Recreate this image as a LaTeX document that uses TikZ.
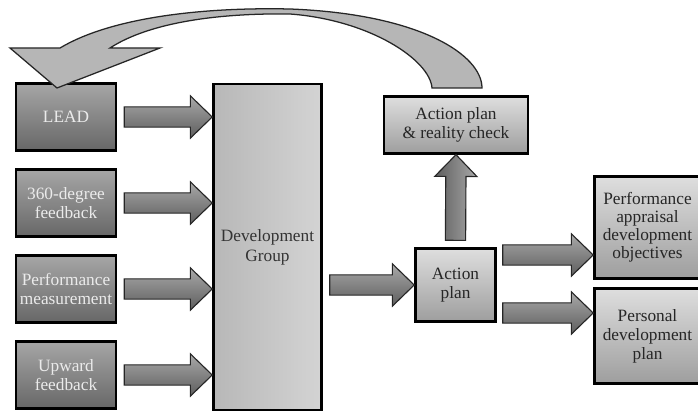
\documentclass[tikz,border=0pt]{standalone}
\usepackage{fontspec}
\setmainfont{Liberation Serif}
\usetikzlibrary{calc}
\definecolor{darktop}{HTML}{A6A6A6}
\definecolor{darkbot}{HTML}{676767}
\definecolor{lighttop}{HTML}{DEDEDE}
\definecolor{lightbot}{HTML}{9E9E9E}
\definecolor{arrtop}{HTML}{A8A8A8}
\definecolor{arrbot}{HTML}{5E5E5E}
\definecolor{loopfill}{HTML}{B6B6B6}

\begin{document}
\begin{tikzpicture}[x=0.025cm, y=-0.025cm, font=\fontsize{12.3}{14}\selectfont,
		box/.style={draw=black, line width=1.8pt, align=center, inner sep=1pt},
		darkbox/.style={box, top color=darktop, bottom color=darkbot, text=white!92!black,
			minimum width=2.5cm, minimum height=1.68cm},
		lightbox/.style={box, top color=lighttop, bottom color=lightbot, text=black!85},
		blk/.style={draw=black!85, line width=0.8pt, to path={
				($(\tikztotarget)!\hl!(\tikztostart)$) coordinate (hb)
				($(\tikztostart)!\bw!90:(\tikztotarget)$) -- ($(hb)!\bw!-90:(\tikztostart)$)
				-- ($(hb)!\hw!-90:(\tikztostart)$) -- (\tikztotarget)
				-- ($(hb)!\hw!90:(\tikztostart)$) -- ($(hb)!\bw!90:(\tikztostart)$)
				-- ($(\tikztostart)!\bw!-90:(\tikztotarget)$) -- cycle}},
		blkh/.style={blk, top color=arrtop, bottom color=arrbot},
		blkv/.style={blk, left color=arrbot, right color=arrtop}]
		\def\bw{7.2pt}\def\hw{15pt}\def\hl{15.5pt}
		\useasboundingbox (0,0) rectangle (698,413);
		\clip (0,0) rectangle (698,413);
		% input boxes
		\node[darkbox] (lead) at (66,117) {LEAD};
		\node[darkbox] (deg) at (66,203) {360-degree\\feedback};
		\node[darkbox] (meas) at (66,289) {Performance\\measurement};
		\node[darkbox] (upw) at (66,375) {Upward\\feedback};
		% development group
		\node[box, left color=black!28, right color=black!17, text=black!80,
			minimum width=2.7cm, minimum height=8.15cm] (dg) at (267.5,247) {Development\\Group};
		% action plans
		\node[lightbox, minimum width=2cm, minimum height=1.82cm] (ap) at (455.5,285) {Action\\plan};
		\node[lightbox, minimum width=3.6cm, minimum height=1.42cm] (rc) at (456,125) {Action plan\\\& reality check};
		% outputs
		\node[lightbox, font=\fontsize{12.3}{12.8}\selectfont, minimum width=2.65cm, minimum height=2.55cm]
			(pa) at (647.5,227.5) {Performance\\appraisal\\development\\objectives};
		\node[lightbox, font=\fontsize{12.3}{13.5}\selectfont, minimum width=2.65cm, minimum height=2.38cm]
			(pd) at (647.5,336) {Personal\\development\\plan};
		% block arrows
		\foreach \n in {lead,deg,meas,upw}
			\draw[blkh] ($(\n.east)+(7,0)$) to (dg.west |- \n.east);
		\draw[blkh] ($(dg.east |- ap.west)+(7,0)$) to (ap.west);
		\coordinate (s1) at ($(ap.east)+(6,-30)$);
		\coordinate (s2) at ($(ap.east)+(6,28)$);
		\draw[blkh] (s1) to (pa.west |- s1);
		\draw[blkh] (s2) to (pd.west |- s2);
		\draw[blkv] ($(ap.north)+(0,-7)$) to (rc.south);
		% feedback loop back to LEAD
		\draw[fill=loopfill, draw=black!85, line width=0.9pt]
			(482,88) .. controls (482,55) and (420,14) .. (290,9)
			.. controls (200,7) and (110,18) .. (60,48) -- (10,48) -- (57,88) -- (160,48) -- (110,48)
			.. controls (150,22) and (220,13) .. (290,14)
			.. controls (370,20) and (430,60) .. (432,88) -- cycle;
	\end{tikzpicture}
\end{document}
